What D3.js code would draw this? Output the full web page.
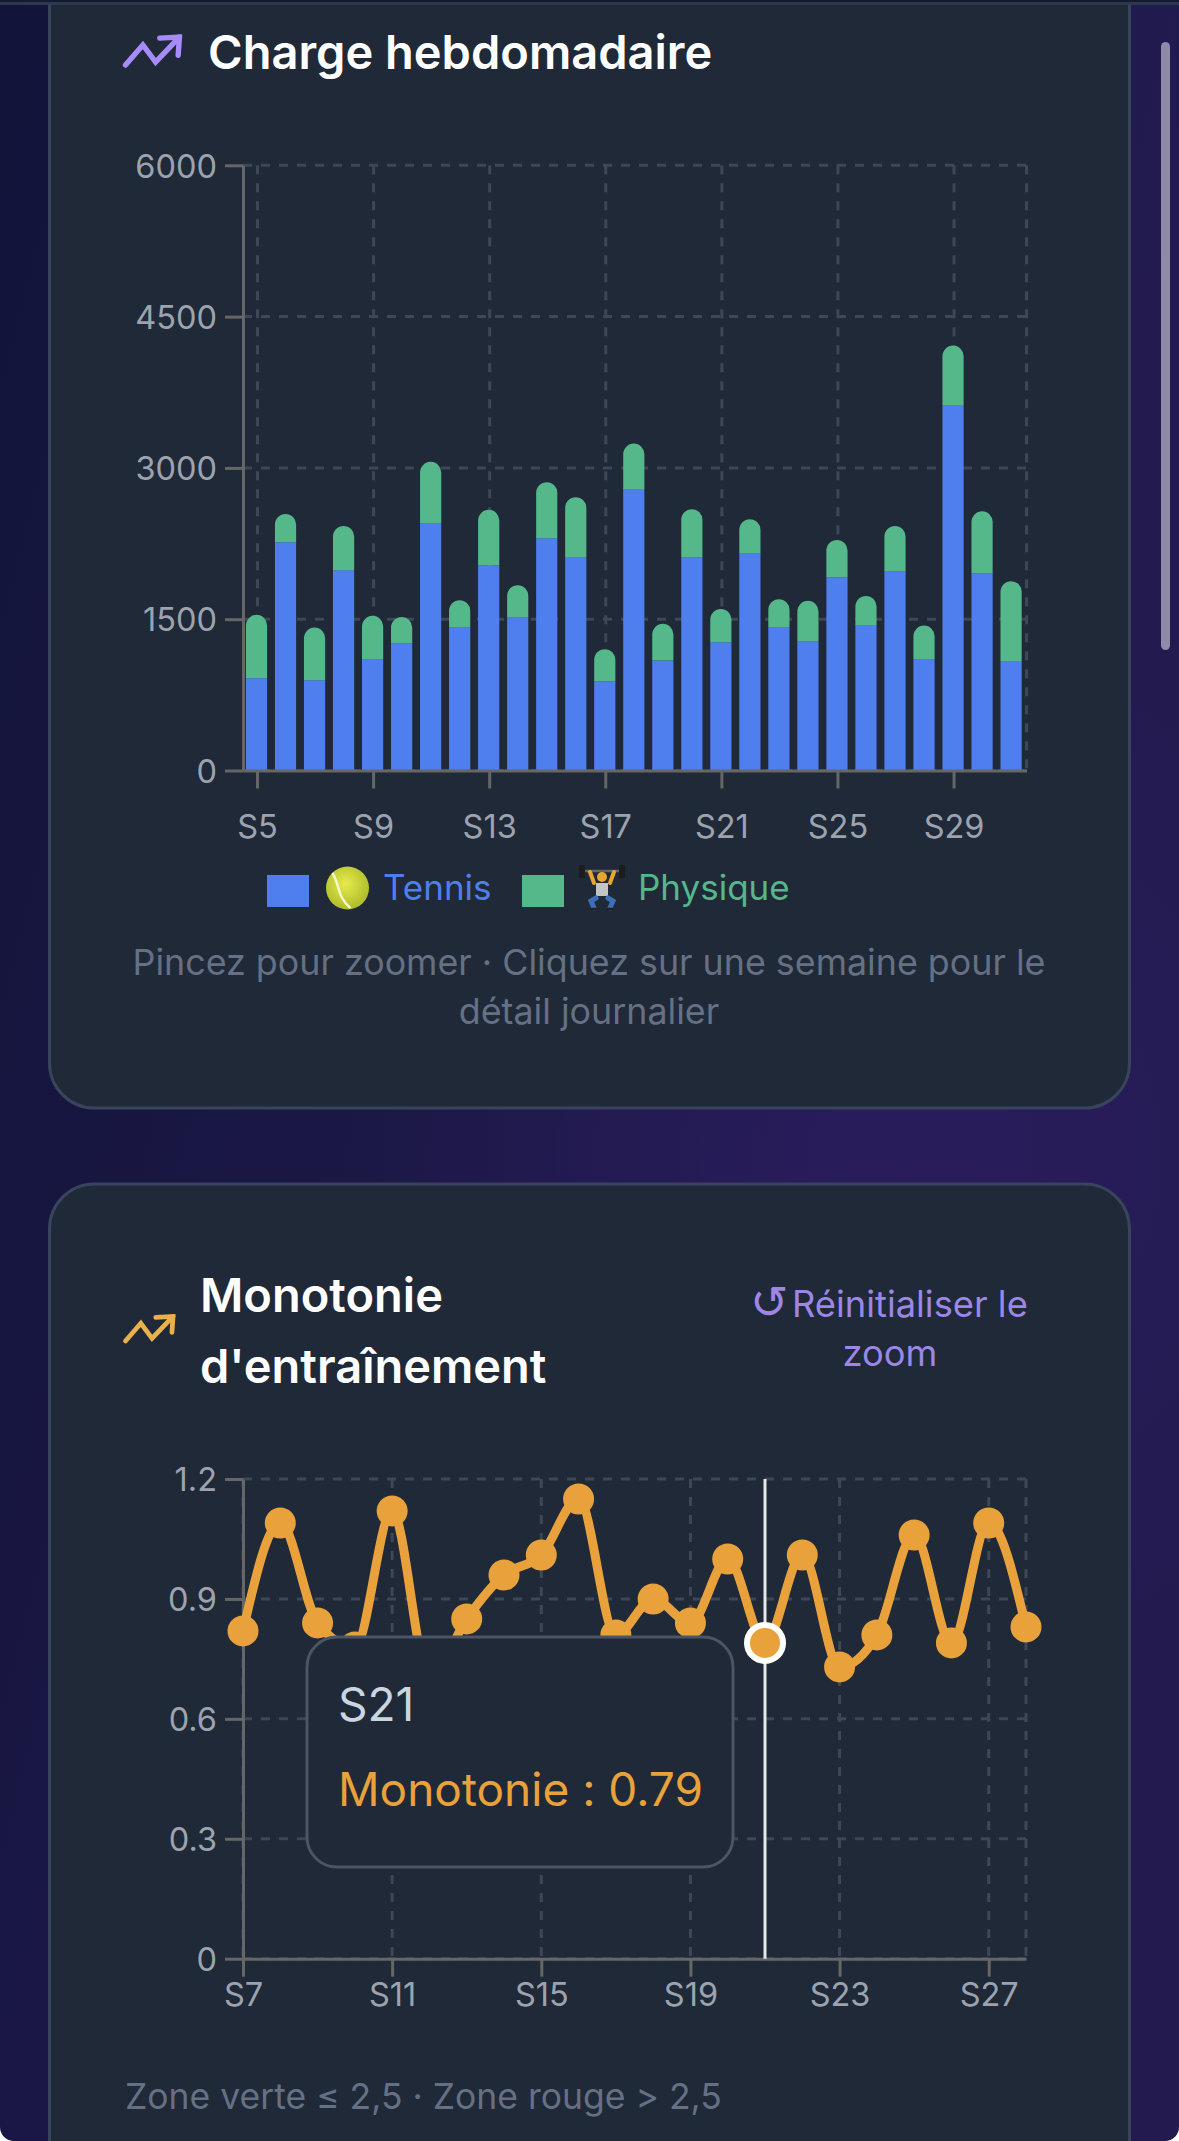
<!DOCTYPE html>
<html>
<head>
<meta charset="utf-8">
<script src="https://cdn.jsdelivr.net/npm/d3@7"></script>
<style>
  html, body { margin: 0; padding: 0; background: #fff; overflow: hidden; }
  svg { display: block; font-family: Inter, "Noto Sans", sans-serif; font-variant-ligatures: no-contextual; }
  .axis text { fill: #9ca3af; font-size: 32.5px; font-family: Inter, sans-serif; }
  .axis path, .axis line { stroke: #666; stroke-width: 3; }
  .grid line { stroke: #3d4757; stroke-width: 3; stroke-dasharray: 9 9; }
</style>
</head>
<body>
<div id="page"></div>
<script>
// charge hebdomadaire
const chargeWeeks = ["S5","S6","S7","S8","S9","S10","S11","S12","S13","S14","S15","S16","S17","S18","S19","S20","S21","S22","S23","S24","S25","S26","S27","S28","S29","S30","S31"];
const tennis = [915,2263,895,1986,1104,1262,2452,1421,2032,1520,2303,2108,885,2792,1090,2115,1272,2148,1421,1282,1916,1434,1976,1104,3624,1956,1077];
const physique = [628,281,522,439,429,261,608,267,552,317,555,601,318,449,364,475,330,343,277,400,370,297,449,333,589,614,800];
const chargeTicks = [0,1500,3000,4500,6000];
const chargeLabelWeeks = ["S5","S9","S13","S17","S21","S25","S29"];

// monotonie
const monoWeeks = ["S7","S8","S9","S10","S11","S12","S13","S14","S15","S16","S17","S18","S19","S20","S21","S22","S23","S24","S25","S26","S27","S28"];
const monotonie = [0.82,1.09,0.84,0.78,1.12,0.70,0.85,0.96,1.01,1.15,0.81,0.90,0.84,1.00,0.79,1.01,0.73,0.81,1.06,0.79,1.09,0.83];
const monoTicks = [0,0.3,0.6,0.9,1.2];
const monoLabelWeeks = ["S7","S11","S15","S19","S23","S27"];

const width = 1179, height = 2141;
const blue = "#4f7fee", green = "#54b88a", orange = "#e9a23b", violet = "#a78bfa", hint = "#667085";

let svg = d3.select("#page").append("svg")
    .attr("width", width)
    .attr("height", height);

// page background: slanted base, purple glow on top
let defs = svg.append("defs");
let base = defs.append("linearGradient").attr("id", "base")
    .attr("gradientUnits", "userSpaceOnUse")
    .attr("x1", 0).attr("y1", 0).attr("x2", 1179).attr("y2", 300);
base.append("stop").attr("offset", "0%").attr("stop-color", "#12143a");
base.append("stop").attr("offset", "100%").attr("stop-color", "#231b50");

let glow = defs.append("radialGradient").attr("id", "glow")
    .attr("gradientUnits", "userSpaceOnUse")
    .attr("cx", 888).attr("cy", 1155).attr("r", 520);
glow.append("stop").attr("offset", "0%").attr("stop-color", "#2b1d60").attr("stop-opacity", 0.75);
glow.append("stop").attr("offset", "100%").attr("stop-color", "#2b1d60").attr("stop-opacity", 0);

let ballShade = defs.append("radialGradient").attr("id", "ballShade")
    .attr("cx", "45%").attr("cy", "40%").attr("r", "60%");
ballShade.append("stop").attr("offset", "0%").attr("stop-color", "#e6ea4c");
ballShade.append("stop").attr("offset", "100%").attr("stop-color", "#aebd2a");

svg.append("rect").attr("width", width).attr("height", height).attr("fill", "url(#base)");
svg.append("rect").attr("width", width).attr("height", height).attr("fill", "url(#glow)");

// cards
function card(y, h) {
    svg.append("rect")
        .attr("x", 49.5).attr("y", y)
        .attr("width", 1080).attr("height", h)
        .attr("rx", 45)
        .attr("fill", "#1f2937")
        .attr("stroke", "#38445c")
        .attr("stroke-width", 3);
}
card(-60, 1168);
card(1184, 1100);
svg.append("rect").attr("y", 0).attr("width", width).attr("height", 2).attr("fill", "#141a30");
svg.append("rect").attr("y", 2).attr("width", width).attr("height", 3).attr("fill", "#2c3850");

// scrollbar
svg.append("rect").attr("x", 1161).attr("y", 42).attr("width", 9).attr("height", 608).attr("rx", 4.5).attr("fill", "#8f8aa8");

function label(x, y, str, size, fill, weight, anchor) {
    return svg.append("text")
        .attr("x", x).attr("y", y)
        .attr("font-size", size)
        .attr("font-weight", weight || 400)
        .attr("text-anchor", anchor || "start")
        .attr("fill", fill)
        .text(str);
}

function trendIcon(x, y, k, color) {
    let g = svg.append("g").attr("transform", "translate(" + x + "," + y + ") scale(" + k + ")")
        .attr("fill", "none").attr("stroke", color).attr("stroke-width", 2.2)
        .attr("stroke-linecap", "round").attr("stroke-linejoin", "miter");
    g.append("polyline").attr("points", "0 17 7.1 8.8 12.3 15.8 22 5.6");
    g.append("polyline").attr("points", "14 6 22 5.6 21.5 13");
}

// rounded on top only, for the top of the stack
function topRounded(x, y, w, h, r) {
    r = Math.min(r, w / 2, h);
    let p = d3.path();
    p.moveTo(x, y + h);
    p.lineTo(x, y + r);
    p.arcTo(x, y, x + r, y, r);
    p.lineTo(x + w - r, y);
    p.arcTo(x + w, y, x + w, y + r, r);
    p.lineTo(x + w, y + h);
    p.closePath();
    return p.toString();
}

function drawAxes(g, x, y, yTicks, xTicks, fmt, xPad) {
    let top = y.range()[1], bottom = y.range()[0];
    let left = d3.min(x.range()), right = d3.max(x.range());

    let gridH = g.append("g").attr("class", "grid");
    gridH.selectAll("line").data(yTicks).enter().append("line")
        .attr("x1", left).attr("x2", right)
        .attr("y1", d => y(d)).attr("y2", d => y(d));

    let gridV = g.append("g").attr("class", "grid");
    gridV.selectAll("line").data(xTicks).enter().append("line")
        .attr("x1", d => x(d) + (x.bandwidth() / 2)).attr("x2", d => x(d) + (x.bandwidth() / 2))
        .attr("y1", top).attr("y2", bottom);
    gridV.append("line").attr("x1", right).attr("x2", right).attr("y1", top).attr("y2", bottom);

    let xAxis = d3.axisBottom(x).tickValues(xTicks).tickSize(18).tickPadding(xPad).tickSizeOuter(0);
    let yAxis = d3.axisLeft(y).tickValues(yTicks).tickSize(18).tickPadding(8).tickSizeOuter(0).tickFormat(fmt);

    return { xAxis: xAxis, yAxis: yAxis };
}

/* ---------- Charge hebdomadaire ---------- */
trendIcon(125.5, 23.4, 2.45, violet);
label(208, 69, "Charge hebdomadaire", 47, "#ffffff", 600);

let g1 = svg.append("g");
let x1 = d3.scaleBand().domain(chargeWeeks).range([243, 1026.6]).padding(0);
let y1 = d3.scaleLinear().domain([0, 6000]).range([770.5, 165.3]);
let ax1 = drawAxes(g1, x1, y1, chargeTicks, chargeLabelWeeks, d3.format("d"), 26);

let stacked = d3.stack().keys(["tennis", "physique"])(chargeWeeks.map((w, i) => ({ week: w, tennis: tennis[i], physique: physique[i] })));
let barW = 21.2;
let barX = w => x1(w) + (x1.bandwidth() - barW) / 2 - 1;

g1.selectAll(".tennis").data(stacked[0]).enter().append("rect")
    .attr("class", "tennis")
    .attr("x", d => barX(d.data.week))
    .attr("y", d => y1(d[1]))
    .attr("width", barW)
    .attr("height", d => y1(d[0]) - y1(d[1]))
    .attr("fill", blue);

g1.selectAll(".physique").data(stacked[1]).enter().append("path")
    .attr("class", "physique")
    .attr("d", d => topRounded(barX(d.data.week), y1(d[1]), barW, y1(d[0]) - y1(d[1]), 12))
    .attr("fill", green);

g1.append("g").attr("class", "axis").attr("transform", "translate(0," + y1(0) + ")").call(ax1.xAxis);
g1.append("g").attr("class", "axis").attr("transform", "translate(" + x1.range()[0] + ",0)").call(ax1.yAxis)
    .selectAll("text").attr("dy", "0.36em");

// legend
svg.append("rect").attr("x", 267).attr("y", 875).attr("width", 42).attr("height", 32).attr("fill", blue);
svg.append("rect").attr("x", 522).attr("y", 875).attr("width", 42).attr("height", 32).attr("fill", green);

// no emoji font here, so these two are drawn by hand
let ball = svg.append("g").attr("transform", "translate(347.5,888)");
ball.append("circle").attr("r", 21.5).attr("fill", "url(#ballShade)");
ball.append("path").attr("d", "M-15,-15 C-8,-4 -10,10 3,20").attr("fill", "none").attr("stroke", "#f4f6cf").attr("stroke-width", 2.5);

let lifter = svg.append("g").attr("transform", "translate(602,888)").attr("fill", "none").attr("stroke-linecap", "round");
lifter.append("line").attr("x1", -20).attr("x2", 20).attr("y1", -17).attr("y2", -17).attr("stroke", "#666").attr("stroke-width", 2.5);
lifter.append("rect").attr("x", -23).attr("y", -23).attr("width", 6).attr("height", 13).attr("fill", "#1c1c1c");
lifter.append("rect").attr("x", 17).attr("y", -23).attr("width", 6).attr("height", 13).attr("fill", "#1c1c1c");
lifter.append("path").attr("d", "M-12,-16 L-8,-5 M12,-16 L8,-5").attr("stroke", "#e9a62f").attr("stroke-width", 4);
lifter.append("circle").attr("cy", -11).attr("r", 5).attr("fill", "#e9a62f");
lifter.append("rect").attr("x", -6).attr("y", -5).attr("width", 12).attr("height", 13).attr("fill", "#c4c4c4");
lifter.append("path").attr("d", "M-6,10 L-11,13 L-8,20 M6,10 L11,13 L8,20").attr("stroke", "#3d6fb5").attr("stroke-width", 5);
lifter.append("path").attr("d", "M-10,21 L-6,21 M10,21 L6,21").attr("stroke", "#222").attr("stroke-width", 2.5);

label(383, 900, "Tennis", 35, blue);
label(638, 900, "Physique", 35, green);

label(589, 975, "Pincez pour zoomer · Cliquez sur une semaine pour le", 35.8, hint, 400, "middle");
label(589, 1023.5, "détail journalier", 35.8, hint, 400, "middle");

/* ---------- Monotonie ---------- */
trendIcon(125.5, 1304.3, 2.16, "#eab04b");
label(200, 1312, "Monotonie", 47, "#ffffff", 600);
label(200, 1383, "d'entraînement", 47, "#ffffff", 600);

label(750, 1318, "↺", 46, "#9d86e6").attr("font-family", "'DejaVu Sans'");
label(792, 1317, "Réinitialiser le", 36.3, "#9d86e6");
label(890, 1366, "zoom", 36.3, "#9d86e6", 400, "middle");

let g2 = svg.append("g");
let x2 = d3.scalePoint().domain(monoWeeks).range([243, 1026]);
let y2 = d3.scaleLinear().domain([0, 1.2]).range([1958.7, 1479]);
let ax2 = drawAxes(g2, x2, y2, monoTicks, monoLabelWeeks, d => d === 0 ? "0" : d.toFixed(1), 6);

g2.append("g").attr("class", "axis").attr("transform", "translate(0," + y2(0) + ")").call(ax2.xAxis);
g2.append("g").attr("class", "axis").attr("transform", "translate(" + x2.range()[0] + ",0)").call(ax2.yAxis)
    .selectAll("text").attr("dy", "0.36em");

let line = d3.line()
    .x((d, i) => x2(monoWeeks[i]))
    .y(d => y2(d))
    .curve(d3.curveMonotoneX);

g2.append("path").datum(monotonie)
    .attr("d", line)
    .attr("fill", "none")
    .attr("stroke", orange)
    .attr("stroke-width", 9);

g2.selectAll(".dot").data(monotonie).enter().append("circle")
    .attr("class", "dot")
    .attr("cx", (d, i) => x2(monoWeeks[i]))
    .attr("cy", d => y2(d))
    .attr("r", 15.5)
    .attr("fill", orange);

// hovered week
let hover = "S21";
let hoverValue = monotonie[monoWeeks.indexOf(hover)];
g2.append("line")
    .attr("x1", x2(hover)).attr("x2", x2(hover))
    .attr("y1", y2(1.2)).attr("y2", y2(0))
    .attr("stroke", "#e5e7eb").attr("stroke-width", 3);
g2.append("circle")
    .attr("cx", x2(hover)).attr("cy", y2(hoverValue))
    .attr("r", 18)
    .attr("fill", orange).attr("stroke", "#ffffff").attr("stroke-width", 6);

// tooltip
g2.append("rect")
    .attr("x", 307).attr("y", 1637)
    .attr("width", 426).attr("height", 230)
    .attr("rx", 30)
    .attr("fill", "#1f2937")
    .attr("stroke", "#4b5563").attr("stroke-width", 3);
label(338, 1721, hover, 46, "#cbd5e1");
label(338, 1806, "Monotonie : " + hoverValue, 46, orange);

label(125, 2109, "Zone verte ≤ 2,5 · Zone rouge > 2,5", 35.5, hint);

// rounded bottom corners of the screenshot
svg.append("path").attr("d", "M0,2127 A14,14 0 0 0 14,2141 L0,2141 Z").attr("fill", "#fff");
svg.append("path").attr("d", "M1179,2127 A14,14 0 0 1 1165,2141 L1179,2141 Z").attr("fill", "#fff");
</script>
</body>
</html>
